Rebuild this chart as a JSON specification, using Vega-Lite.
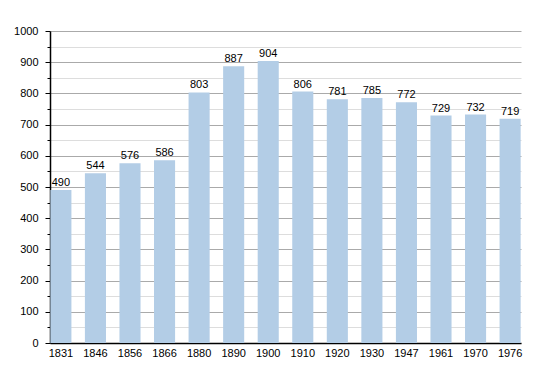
{
  "$schema": "https://vega.github.io/schema/vega-lite/v6.json",
  "width": 471,
  "height": 312,
  "autosize": {"type": "none"},
  "padding": {"left": 50, "top": 31, "right": 29, "bottom": 30},
  "background": "white",
  "config": {
    "view": {"stroke": null},
    "font": "Liberation Sans",
    "axis": {"labelFont": "Liberation Sans", "labelFontSize": 11, "labelColor": "#000", "domainColor": "#000", "tickColor": "#000"}
  },
  "data": {
    "values": [
      {"year": "1831", "pop": 490},
      {"year": "1846", "pop": 544},
      {"year": "1856", "pop": 576},
      {"year": "1866", "pop": 586},
      {"year": "1880", "pop": 803},
      {"year": "1890", "pop": 887},
      {"year": "1900", "pop": 904},
      {"year": "1910", "pop": 806},
      {"year": "1920", "pop": 781},
      {"year": "1930", "pop": 785},
      {"year": "1947", "pop": 772},
      {"year": "1961", "pop": 729},
      {"year": "1970", "pop": 732},
      {"year": "1976", "pop": 719}
    ]
  },
  "encoding": {
    "x": {
      "field": "year", "type": "ordinal", "sort": null,
      "scale": {"paddingInner": 0.39, "paddingOuter": 0.01},
      "axis": {"title": null, "labelAngle": 0, "ticks": false, "labelPadding": 4, "domainWidth": 1.5}
    },
    "y": {
      "field": "pop", "type": "quantitative",
      "scale": {"domain": [0, 1000], "nice": false},
      "axis": {
        "title": null,
        "format": "d",
        "values": [0, 50, 100, 150, 200, 250, 300, 350, 400, 450, 500, 550, 600, 650, 700, 750, 800, 850, 900, 950, 1000],
        "labelExpr": "datum.value % 100 === 0 ? datum.label : ''",
        "grid": true,
        "gridColor": {"condition": {"test": "datum.value % 100 === 0", "value": "#aaaaaa"}, "value": "#dddddd"},
        "tickSize": {"condition": {"test": "datum.value % 100 === 0", "value": 5}, "value": 3},
        "labelPadding": 7,
        "domainWidth": 1.5
      }
    }
  },
  "layer": [
    {"mark": {"type": "bar", "color": "#b3cde6"}},
    {
      "mark": {"type": "text", "dy": -7, "fontSize": 11, "color": "#000", "font": "Liberation Sans"},
      "encoding": {"text": {"field": "pop", "type": "quantitative"}}
    }
  ]
}
